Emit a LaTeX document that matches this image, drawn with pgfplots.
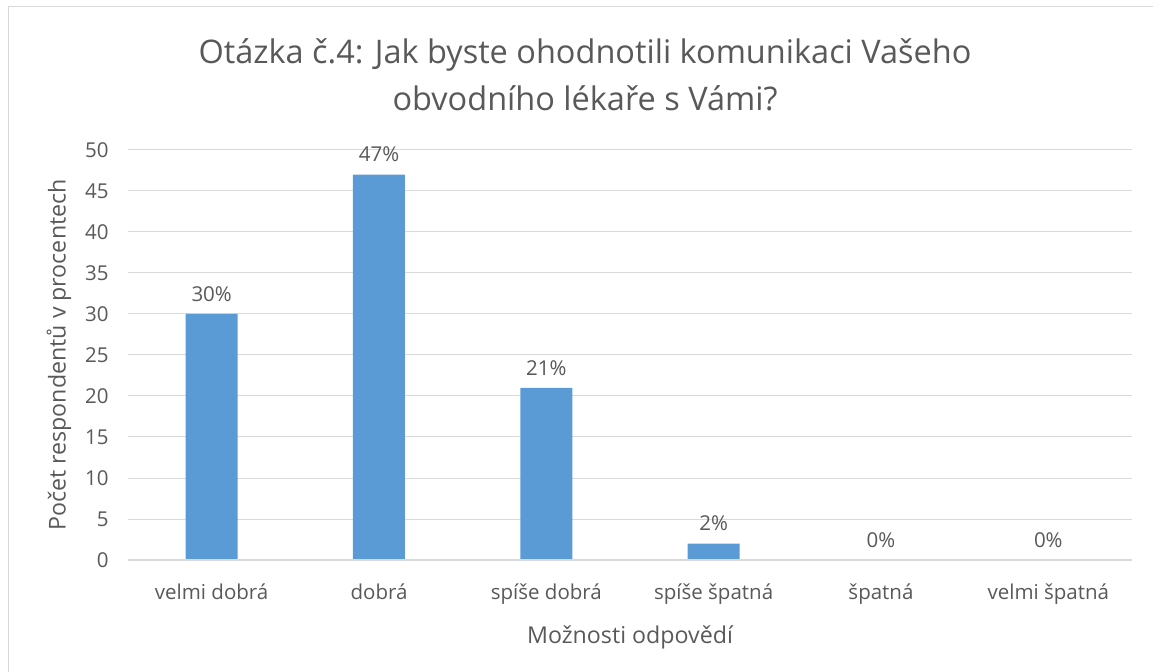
\documentclass[border=0pt]{standalone}
\usepackage{pgfplots}
\pgfplotsset{compat=1.18}
\usetikzlibrary{calc}
\usepackage{fontspec}
\setmainfont{Open Sans}
\definecolor{txt}{HTML}{595959}
\definecolor{gridc}{HTML}{D9D9D9}
\definecolor{barc}{HTML}{5B9BD5}
\begin{document}
\begin{tikzpicture}
\begin{axis}[
  scale only axis, width=1004bp, height=410bp,
  xmin=-0.5, xmax=5.5, ymin=0, ymax=50,
  ytick={0,5,...,50},
  xtick={0,1,2,3,4,5},
  xticklabels={velmi dobrá,dobrá,spíše dobrá,spíše špatná,špatná,velmi špatná},
  axis line style={draw=none},
  axis x line*=bottom, axis y line*=left,
  major tick length=0pt,
  ymajorgrids, xmajorgrids=false, grid style={color=gridc, line width=1bp},
  ybar, bar width=52bp,
  /pgf/number format/assume math mode=true,
  tick label style={font=\fontsize{20.5bp}{24bp}\selectfont, text=txt},
  yticklabel style={xshift=-16bp},
  xticklabel style={yshift=-20bp},
  xlabel={Možnosti odpovědí},
  ylabel={Počet respondentů v procentech},
  label style={font=\fontsize{23.2bp}{28bp}\selectfont, text=txt},
  xlabel style={yshift=-15bp},
  ylabel style={yshift=7bp},
  nodes near coords={\pgfmathprintnumber{\pgfplotspointmeta}\%},
  every node near coord/.append style={font=\fontsize{20.5bp}{24bp}\selectfont, text=txt, yshift=9bp},
  clip=false,
]
\coordinate (O) at (rel axis cs:0,0);
\addplot[fill=barc, draw=none] coordinates {(0,30) (1,47) (2,21) (3,2) (4,0) (5,0)};
\draw[color=gridc, line width=1.5bp] (rel axis cs:0,0) -- (rel axis cs:1,0);
\end{axis}
\coordinate (BL) at ($(O)+(-128bp,-112bp)$);
\useasboundingbox (BL) rectangle ++(1153bp,672bp);
\draw[gridc, line width=1.5bp] ($(BL)+(8.5bp,0)$) -- ++(0,665.5bp) -- ++(1145bp,0);
\node[text=txt, font=\fontsize{32.5bp}{47bp}\selectfont, align=center] at ($(BL)+(585bp,597bp)$) {Otázka č.4: Jak byste ohodnotili komunikaci Vašeho\\obvodního lékaře s Vámi?};
\end{tikzpicture}
\end{document}
